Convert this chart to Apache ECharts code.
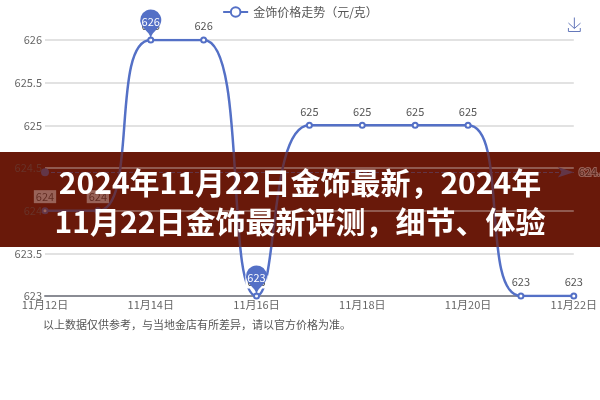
<!DOCTYPE html>
<html>
<head>
<meta charset="utf-8">
<script src="https://cdn.jsdelivr.net/npm/echarts@6/dist/echarts.min.js"></script>
<style>
html,body{margin:0;padding:0;background:#fff;}
#c{width:600px;height:400px;}
</style>
</head>
<body>
<div id="c"></div>
<script>
const categories = ['11月12日','11月13日','11月14日','11月15日','11月16日','11月17日','11月18日','11月19日','11月20日','11月21日','11月22日'];
const prices = [624, 624, 626, 626, 623, 625, 625, 625, 625, 623, 623];
const seriesName = '金饰价格走势（元/克）';
const yMin = 623, yMax = 626, yStep = 0.5;
const bannerLines = ['2024年11月22日金饰最新，2024年', '11月22日金饰最新评测，细节、体验'];
const footnote = '以上数据仅供参考，与当地金店有所差异，请以官方价格为准。';

const chart = echarts.init(document.getElementById('c'));
chart.setOption({
  animation: false,
  textStyle: { fontFamily: '"Noto Sans CJK SC", "Noto Sans", sans-serif' },
  legend: { top: 1, left: 'center', itemHeight: 12, textStyle: { color: '#555', fontSize: 12 }, data: [seriesName] },
  toolbox: { right: 2, top: 0, itemSize: 14, feature: { saveAsImage: { title: '' } } },
  grid: { left: 45, right: 24, top: 40, bottom: 104, containLabel: false },
  xAxis: {
    type: 'category', boundaryGap: false, data: categories,
    axisLine: { lineStyle: { color: '#8a8c94', width: 2 } },
    axisTick: { show: false },
    axisLabel: { interval: 1, margin: 3, fontSize: 11, color: '#666' }
  },
  yAxis: {
    type: 'value', min: yMin, max: yMax, interval: yStep,
    axisLine: { show: false }, axisTick: { show: false },
    axisLabel: { margin: 3, fontSize: 11, color: '#666' },
    splitLine: { lineStyle: { color: '#e2e2e2', width: 2 } }
  },
  series: [{
    name: seriesName, type: 'line', smooth: true, data: prices,
    symbol: 'emptyCircle', symbolSize: 5,
    lineStyle: { width: 2.5, color: '#5470c6' },
    itemStyle: { color: '#5470c6' },
    label: { show: true, position: 'top', distance: 4, fontSize: 11, color: '#555', backgroundColor: '#fff', padding: [1, 2] },
    markPoint: {
      symbolSize: 35,
      label: { fontSize: 11, color: '#fff' },
      data: [{ type: 'max', name: '最高' }, { type: 'min', name: '最低' }]
    },
    markLine: {
      label: { fontSize: 11 },
      data: [{ type: 'average', name: '平均' }]
    }
  }],
  graphic: { elements: [
    { type: 'rect', z: -100, shape: { x: 0, y: 152, width: 600, height: 95 }, style: { fill: 'rgb(105,25,10)' } },
    { type: 'rect', z: 100, shape: { x: 0, y: 152, width: 600, height: 95 }, style: { fill: 'rgba(105,25,10,0.68)' } },
    { type: 'text', z: 101, x: 300, y: 183, style: { text: bannerLines[0], fill: '#fff', font: 'bold 30px "Noto Sans CJK SC"', textAlign: 'center', textVerticalAlign: 'middle' } },
    { type: 'text', z: 101, x: 300, y: 222, style: { text: bannerLines[1], fill: '#fff', font: 'bold 30px "Noto Sans CJK SC"', textAlign: 'center', textVerticalAlign: 'middle' } },
    { type: 'text', z: 101, x: 43, y: 325, style: { text: footnote, fill: '#555', font: '11px "Noto Sans CJK SC"', textAlign: 'left', textVerticalAlign: 'middle' } }
  ] }
});
</script>
</body>
</html>
